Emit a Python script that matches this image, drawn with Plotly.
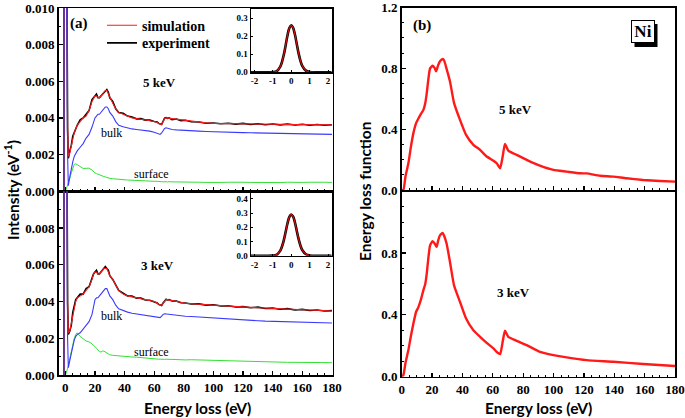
import plotly.graph_objects as go

# ---------------- data ----------------
# energy grid (eV) for the left (REELS) panels
energy = [-1, -0.5, 0, 0.5, 1, 1.5, 2, 3, 4, 5,
          6, 7, 8, 10, 12, 14, 16, 18, 19, 20,
          21, 22, 23, 24, 25, 26, 27, 28, 29, 30,
          32, 34, 36, 39, 42, 45, 48, 51, 54, 57,
          60, 62, 63, 64, 65, 66, 67, 68, 69, 70,
          72, 75, 78, 81, 85, 90, 95, 100, 105, 110,
          115, 120, 125, 130, 135, 140, 145, 150, 155, 160,
          165, 170, 175, 180]

# 5 keV
sim5 = [0, 0.08, 0.26, 0.08, 0.012, 0.0035, 0.0019, 0.0021, 0.0025, 0.0029,
        0.0032, 0.0034, 0.0036, 0.0038, 0.0040, 0.0041, 0.0044, 0.0049, 0.0051, 0.0052,
        0.0052, 0.00512, 0.0051, 0.00518, 0.0053, 0.0054, 0.0055, 0.0055, 0.0053, 0.0051,
        0.0048, 0.0045, 0.0043, 0.0042, 0.0041, 0.0040, 0.00397, 0.00393, 0.0039, 0.00385,
        0.0038, 0.00375, 0.0037, 0.00366, 0.00365, 0.0038, 0.00396, 0.0040, 0.00399, 0.00397,
        0.00393, 0.0039, 0.00387, 0.00384, 0.0038, 0.00376, 0.00373, 0.0037, 0.00369, 0.00369,
        0.00368, 0.00367, 0.00366, 0.00366, 0.00365, 0.00365, 0.00364, 0.00364, 0.00364, 0.00363,
        0.00363, 0.00363, 0.00362, 0.00362]
exp5 = [0, 0.08, 0.26, 0.08, 0.012, 0.0034, 0.0018, 0.0022, 0.0025, 0.0030,
        0.0032, 0.0035, 0.0036, 0.0039, 0.0040, 0.0042, 0.0044, 0.0050, 0.0051, 0.0052,
        0.0053, 0.0051, 0.0051, 0.0052, 0.0053, 0.0054, 0.0055, 0.00555, 0.0054, 0.0051,
        0.0049, 0.0045, 0.0043, 0.00425, 0.0041, 0.00405, 0.00395, 0.00396, 0.00388, 0.00388,
        0.0038, 0.00378, 0.0037, 0.00368, 0.00364, 0.00382, 0.00399, 0.00402, 0.00397, 0.0040,
        0.0039, 0.00394, 0.00385, 0.00387, 0.00379, 0.00378, 0.00371, 0.00372, 0.00368, 0.00371,
        0.00366, 0.0037, 0.00364, 0.00368, 0.00363, 0.00367, 0.00362, 0.00366, 0.00361, 0.00365,
        0.0036, 0.00364, 0.0036, 0.00363]
bulk5 = [0, 0.08, 0.26, 0.08, 0.01, 0.002, 0.0003, 0.0008, 0.0013, 0.0016,
         0.0019, 0.0021, 0.0022, 0.0024, 0.0026, 0.0029, 0.0031, 0.0035, 0.0038, 0.0040,
         0.0041, 0.0042, 0.0042, 0.0043, 0.0044, 0.0045, 0.0046, 0.0046, 0.0045, 0.0043,
         0.0041, 0.0038, 0.0036, 0.00352, 0.00345, 0.0034, 0.00337, 0.00335, 0.00332, 0.00328,
         0.00322, 0.00316, 0.00312, 0.0031, 0.00318, 0.0033, 0.00342, 0.00346, 0.00344, 0.0034,
         0.00337, 0.00335, 0.00333, 0.00331, 0.0033, 0.00328, 0.00326, 0.00324, 0.00323, 0.00322,
         0.00321, 0.0032, 0.00319, 0.00318, 0.00317, 0.00316, 0.00315, 0.00315, 0.00314, 0.00313,
         0.00312, 0.00311, 0.0031, 0.0031]
surf5 = [0, 0, 0, 0.0001, 0.0002, 0.0003, 0.0004, 0.0007, 0.001, 0.0013,
         0.00146, 0.0015, 0.00145, 0.00133, 0.00124, 0.00125, 0.00126, 0.00115, 0.00106, 0.001,
         0.00096, 0.00092, 0.00088, 0.00085, 0.00082, 0.0008, 0.00078, 0.00075, 0.00073, 0.0007,
         0.00068, 0.00066, 0.00065, 0.00062, 0.00061, 0.0006, 0.00058, 0.00058, 0.00056, 0.00056,
         0.00054, 0.00054, 0.00052, 0.00053, 0.00052, 0.00051, 0.00053, 0.00052, 0.0005, 0.00052,
         0.00051, 0.0005, 0.00051, 0.00049, 0.0005, 0.00049, 0.00048, 0.0005, 0.00048, 0.00049,
         0.00047, 0.00049, 0.00048, 0.00047, 0.00049, 0.00048, 0.00047, 0.00049, 0.00047, 0.00048,
         0.00049, 0.00047, 0.00049, 0.00048]

# 3 keV
sim3 = [0, 0.09, 0.29, 0.09, 0.014, 0.004, 0.0023, 0.0024, 0.0028, 0.0033,
        0.0037, 0.004, 0.0042, 0.0043, 0.0044, 0.0046, 0.0048, 0.0052, 0.0055, 0.0056,
        0.0056, 0.0055, 0.0055, 0.0056, 0.0057, 0.0058, 0.0058, 0.0058, 0.0056, 0.0054,
        0.0052, 0.0049, 0.0046, 0.0044, 0.0043, 0.00425, 0.0042, 0.00415, 0.0041, 0.00405,
        0.004, 0.0039, 0.00385, 0.0038, 0.0038, 0.0039, 0.00405, 0.0041, 0.0041, 0.00408,
        0.00405, 0.004, 0.00395, 0.0039, 0.00388, 0.00385, 0.00382, 0.0038, 0.00377, 0.00375,
        0.00372, 0.0037, 0.00368, 0.00366, 0.00364, 0.00362, 0.0036, 0.00358, 0.00356, 0.00355,
        0.00353, 0.00352, 0.0035, 0.00348]
exp3 = [0, 0.09, 0.29, 0.09, 0.014, 0.0039, 0.0022, 0.0024, 0.0027, 0.0034,
        0.0037, 0.0041, 0.0042, 0.0044, 0.0044, 0.0047, 0.0048, 0.0053, 0.0055, 0.0056,
        0.0057, 0.0055, 0.0055, 0.0056, 0.0057, 0.0058, 0.0059, 0.0058, 0.0057, 0.0054,
        0.0052, 0.0049, 0.0046, 0.00445, 0.0043, 0.0043, 0.00418, 0.00418, 0.00408, 0.00407,
        0.00398, 0.00392, 0.00384, 0.00381, 0.00378, 0.00392, 0.00406, 0.00412, 0.00408, 0.0041,
        0.00403, 0.00402, 0.00393, 0.00392, 0.00386, 0.00387, 0.0038, 0.00382, 0.00375, 0.00377,
        0.0037, 0.00372, 0.00366, 0.00369, 0.00362, 0.00364, 0.00358, 0.00361, 0.00354, 0.00357,
        0.00351, 0.00354, 0.00348, 0.0035]
bulk3 = [0, 0.09, 0.29, 0.09, 0.012, 0.002, 0.0004, 0.0008, 0.0012, 0.0016,
         0.0019, 0.0021, 0.0022, 0.0023, 0.0025, 0.0027, 0.0029, 0.0033, 0.0038, 0.0041,
         0.0042, 0.0042, 0.0043, 0.0044, 0.0045, 0.0046, 0.0047, 0.0047, 0.0045, 0.0043,
         0.0041, 0.0038, 0.0036, 0.0035, 0.00342, 0.00336, 0.00332, 0.0033, 0.00326, 0.00322,
         0.00318, 0.00313, 0.0031, 0.00312, 0.0032, 0.0033, 0.00333, 0.00332, 0.0033, 0.00328,
         0.00326, 0.00324, 0.00322, 0.0032, 0.00318, 0.00315, 0.00312, 0.0031, 0.00307, 0.00304,
         0.00301, 0.00299, 0.00297, 0.00295, 0.00293, 0.00292, 0.0029, 0.00289, 0.00288, 0.00287,
         0.00286, 0.00285, 0.00284, 0.00283]
surf3 = [0, 0, 0, 0.0001, 0.0002, 0.0003, 0.0005, 0.0009, 0.0013, 0.0017,
         0.002, 0.0022, 0.0023, 0.0021, 0.00195, 0.00185, 0.0018, 0.0017, 0.0016, 0.00155,
         0.00145, 0.00135, 0.00127, 0.00125, 0.0013, 0.0013, 0.00125, 0.00118, 0.00113, 0.0011,
         0.00107, 0.00105, 0.00103, 0.00101, 0.001, 0.00098, 0.00097, 0.00094, 0.00093, 0.0009,
         0.00088, 0.00087, 0.00086, 0.00086, 0.00085, 0.00086, 0.00085, 0.00086, 0.00084, 0.00085,
         0.00085, 0.00083, 0.00084, 0.00082, 0.00083, 0.00082, 0.0008, 0.0008, 0.00078, 0.00075,
         0.00073, 0.00072, 0.00073, 0.00071, 0.00071, 0.0007, 0.0007, 0.00069, 0.00069, 0.00068,
         0.00068, 0.00067, 0.00067, 0.00067]

# elastic peak insets
inset_e = [-2.2, -1.5, -1.0, -0.8, -0.6, -0.5, -0.4, -0.3, -0.2, -0.1, 0,
           0.1, 0.2, 0.3, 0.4, 0.5, 0.6, 0.8, 1.0, 1.5, 2.2]
inset5 = [0, 0, 0.001, 0.005, 0.03, 0.058, 0.098, 0.15, 0.205, 0.245, 0.26,
          0.247, 0.21, 0.158, 0.106, 0.065, 0.036, 0.009, 0.002, 0, 0]
inset3 = [0, 0, 0.001, 0.006, 0.034, 0.065, 0.11, 0.168, 0.228, 0.273, 0.29,
          0.276, 0.235, 0.176, 0.118, 0.072, 0.04, 0.01, 0.002, 0, 0]
inset_ticks = [-2, -1, 0, 1, 2]
inset_ticktext = ["-2", "-1", "0", "1", "2"]

# energy loss functions (right panels)
elf5_e = [0, 1.1, 2.5, 4.4, 6, 7.7, 9.5, 11, 12.7, 14.3, 15.5, 16.5, 17.7, 18.7, 20.4,
          21.8, 22.6, 24, 25.2, 27, 28, 29.2, 31.8, 34.5, 38.4, 42.4, 47.2, 51.6, 56,
          60.4, 62.6, 64.8, 66.5, 68, 70.2, 75.7, 82.3, 91, 99.9, 108.6, 117.4, 121.8,
          130.6, 139.4, 148, 159, 170, 180]
elf5 = [0, 0, 0.09, 0.176, 0.28, 0.374, 0.44, 0.47, 0.5, 0.527, 0.57, 0.637, 0.74, 0.80, 0.817,
        0.80, 0.78, 0.82, 0.846, 0.861, 0.85, 0.81, 0.714, 0.571, 0.461, 0.362, 0.297, 0.264, 0.22,
        0.193, 0.176, 0.143, 0.22, 0.303, 0.259, 0.231, 0.198, 0.160, 0.132, 0.121, 0.110, 0.109,
        0.094, 0.088, 0.077, 0.066, 0.059, 0.055]
elf3_e = [0, 1.1, 2.5, 4.4, 6, 7.7, 9.5, 11, 12.7, 14.3, 15.5, 16.5, 17.7, 18.7, 20.4,
          21.8, 23, 24, 25.2, 27, 28, 29.6, 31.8, 34.5, 38.4, 42.4, 47.2, 51.6, 56,
          60.4, 62.6, 64.8, 66.5, 68, 70.2, 75.7, 82.3, 91, 99.9, 108.6, 121.8,
          139.4, 159, 180]
elf3 = [0, 0.01, 0.09, 0.172, 0.26, 0.344, 0.42, 0.45, 0.5, 0.56, 0.6, 0.667, 0.78, 0.85, 0.877,
        0.86, 0.84, 0.88, 0.914, 0.93, 0.91, 0.86, 0.742, 0.59, 0.484, 0.376, 0.30, 0.258, 0.219,
        0.183, 0.16, 0.146, 0.226, 0.297, 0.258, 0.232, 0.204, 0.161, 0.14, 0.125, 0.107,
        0.097, 0.082, 0.069]

# ---------------- styling ----------------
W, H = 685, 418
SERIF = "Liberation Serif"
SANS = "Lato"
RED = "#ff1a1a"
BLUE = "#3a3aff"
GREEN = "#33e033"


def px(x):
    return x / W


def py(y):
    return 1 - y / H


fig = go.Figure()

# left panels
for ax, sim, exp, bulk, surf in [("", sim5, exp5, bulk5, surf5), ("2", sim3, exp3, bulk3, surf3)]:
    xa, ya = "x" + ax, "y" + ax
    fig.add_trace(go.Scatter(x=energy, y=surf, mode="lines", line=dict(color=GREEN, width=1),
                             xaxis=xa, yaxis=ya, showlegend=False))
    fig.add_trace(go.Scatter(x=energy, y=exp, mode="lines", line=dict(color="black", width=1.6),
                             xaxis=xa, yaxis=ya, name="experiment", showlegend=(ax == ""),
                             legend="legend2"))
    fig.add_trace(go.Scatter(x=energy, y=sim, mode="lines", line=dict(color=RED, width=1.1),
                             xaxis=xa, yaxis=ya, name="simulation", showlegend=(ax == ""),
                             legend="legend"))
    fig.add_trace(go.Scatter(x=energy, y=bulk, mode="lines", line=dict(color=BLUE, width=1.1),
                             xaxis=xa, yaxis=ya, showlegend=False))

# right panels
fig.add_trace(go.Scatter(x=elf5_e, y=elf5, mode="lines", line=dict(color=RED, width=2.4, shape="spline", smoothing=0.5),
                         xaxis="x3", yaxis="y3", showlegend=False))
fig.add_trace(go.Scatter(x=elf3_e, y=elf3, mode="lines", line=dict(color=RED, width=2.4, shape="spline", smoothing=0.5),
                         xaxis="x4", yaxis="y4", showlegend=False))

# insets
for ax, vals in [("5", inset5), ("6", inset3)]:
    fig.add_trace(go.Scatter(x=inset_e, y=vals, mode="lines", line=dict(color="black", width=2.6, shape="spline"),
                             xaxis="x" + ax, yaxis="y" + ax, showlegend=False))
    fig.add_trace(go.Scatter(x=inset_e, y=vals, mode="lines", line=dict(color="#d01010", width=1.2, shape="spline"),
                             xaxis="x" + ax, yaxis="y" + ax, showlegend=False))

tickfont = dict(family=SERIF, size=13, color="black", weight="bold")
common = dict(showline=True, linecolor="black", linewidth=1.5, mirror=True, ticks="inside",
              ticklen=4, tickwidth=1.2, tickcolor="black", showgrid=False, zeroline=False,
              tickfont=tickfont, automargin=False)


def xaxis(domain, rng, labels, anchor):
    return dict(common, domain=domain, range=rng, anchor=anchor, tickmode="array",
                tickvals=[0, 20, 40, 60, 80, 100, 120, 140, 160, 180],
                showticklabels=labels,
                minor=dict(ticks="inside", ticklen=2, tickwidth=1, tickcolor="black", dtick=5, tick0=0))


def yaxis(domain, rng, tickvals, ticktext, minor_dt, anchor):
    return dict(common, domain=domain, range=rng, anchor=anchor, tickmode="array",
                tickvals=tickvals, ticktext=ticktext,
                minor=dict(ticks="inside", ticklen=2, tickwidth=1, tickcolor="black", dtick=minor_dt, tick0=0))


LX = [px(58.7), px(332.7)]
RX = [px(401.7), px(675)]
LT = [py(191.2), py(8)]
LB = [py(375), py(191.2)]
RT = [py(190), py(7.5)]
RB = [py(376.7), py(191.2)]

lt_vals = [0, 0.002, 0.004, 0.006, 0.008, 0.010]
lt_text = ["0.000", "0.002", "0.004", "0.006", "0.008", "0.010"]
lb_vals = [0, 0.002, 0.004, 0.006, 0.008]
lb_text = ["0.000", "0.002", "0.004", "0.006", "0.008"]

inset_font = dict(family=SERIF, size=9, color="black", weight="bold")
inset_common = dict(showline=True, linecolor="black", linewidth=1.2, mirror=True, ticks="inside",
                    ticklen=2, tickcolor="black", showgrid=False, zeroline=False, tickfont=inset_font,
                    automargin=False)
IX = [px(250.7), px(331.7)]

legend_font = dict(family=SERIF, size=14, color="black", weight="bold")
fig.update_layout(
    width=W, height=H, margin=dict(l=0, r=0, t=0, b=0, autoexpand=False),
    paper_bgcolor="white", plot_bgcolor="rgba(0,0,0,0)",
    xaxis=xaxis(LX, [-4.5, 180.5], False, "y"),
    yaxis=yaxis(LT, [0, 0.010], lt_vals, lt_text, 0.001, "x"),
    xaxis2=xaxis(LX, [-4.5, 180.5], True, "y2"),
    yaxis2=yaxis(LB, [0, 0.010], lb_vals, lb_text, 0.001, "x2"),
    xaxis3=xaxis(RX, [0, 180], False, "y3"),
    yaxis3=yaxis(RT, [0, 1.2], [0, 0.4, 0.8, 1.2], ["0.0", "0.4", "0.8", "1.2"], 0.1, "x3"),
    xaxis4=xaxis(RX, [0, 180], True, "y4"),
    yaxis4=yaxis(RB, [0, 1.2], [0, 0.4, 0.8], ["0.0", "0.4", "0.8"], 0.1, "x4"),
    xaxis5=dict(inset_common, domain=IX, range=[-2.2, 2.2], anchor="y5",
                tickvals=inset_ticks, ticktext=inset_ticktext),
    yaxis5=dict(inset_common, domain=[py(72.3), py(9)], range=[0, 0.35], anchor="x5",
                tickvals=[0, 0.1, 0.2, 0.3], ticktext=["0.0", "0.1", "0.2", "0.3"]),
    xaxis6=dict(inset_common, domain=IX, range=[-2.2, 2.2], anchor="y6",
                tickvals=inset_ticks, ticktext=inset_ticktext),
    yaxis6=dict(inset_common, domain=[py(255.7), py(191.7)], range=[0, 0.45], anchor="x6",
                tickvals=[0, 0.1, 0.2, 0.3, 0.4], ticktext=["0.0", "0.1", "0.2", "0.3", "0.4"]),
    legend=dict(x=px(102), y=py(25.7), xanchor="left", yanchor="middle", bgcolor="rgba(0,0,0,0)",
                font=legend_font, itemwidth=30),
    legend2=dict(x=px(102), y=py(43.3), xanchor="left", yanchor="middle", bgcolor="rgba(0,0,0,0)",
                 font=legend_font, itemwidth=30),
)

ann = []


def txt(x, y, s, size=13, family=SERIF, bold=True, angle=0, **kw):
    ann.append(dict(x=px(x), y=py(y), xref="paper", yref="paper", text=s, showarrow=False,
                    xanchor="center", yanchor="middle", textangle=angle,
                    font=dict(family=family, size=size, color="black", weight="bold" if bold else "normal"), **kw))


txt(79, 23, "(a)", size=15)
txt(159, 82, "5 keV", size=13)
txt(157, 265, "3 keV", size=13)
txt(111, 133, "bulk", size=12, bold=False)
txt(111, 316, "bulk", size=12, bold=False)
txt(151, 174, "surface", size=12, bold=False)
txt(151, 352, "surface", size=12, bold=False)
txt(421.7, 25, "(b)", size=15)
txt(515, 110, "5 keV", size=13)
txt(513, 292, "3 keV", size=13)
txt(197, 408, "Energy loss (eV)", size=15.5, family=SANS)
txt(538.5, 408, "Energy loss (eV)", size=15.5, family=SANS)
txt(11, 190, "Intensity (eV<sup>-1</sup>)", size=15.5, family=SANS, angle=-90)
txt(365, 192, "Energy loss function", size=15.5, family=SANS, angle=-90)
txt(642.5, 31.7, "Ni", size=17, bgcolor="white", bordercolor="black", borderwidth=1,
    borderpad=1, width=20, height=19)
fig.update_layout(annotations=ann)

# drop shadow of the Ni label box
fig.add_shape(type="rect", xref="paper", yref="paper", x0=px(634.5), x1=px(657.5),
              y0=py(47), y1=py(24), fillcolor="black", line=dict(width=0), layer="above")

fig.write_html("out.html", config={"displayModeBar": False, "staticPlot": True},
               post_script="document.body.style.margin='0px';")
